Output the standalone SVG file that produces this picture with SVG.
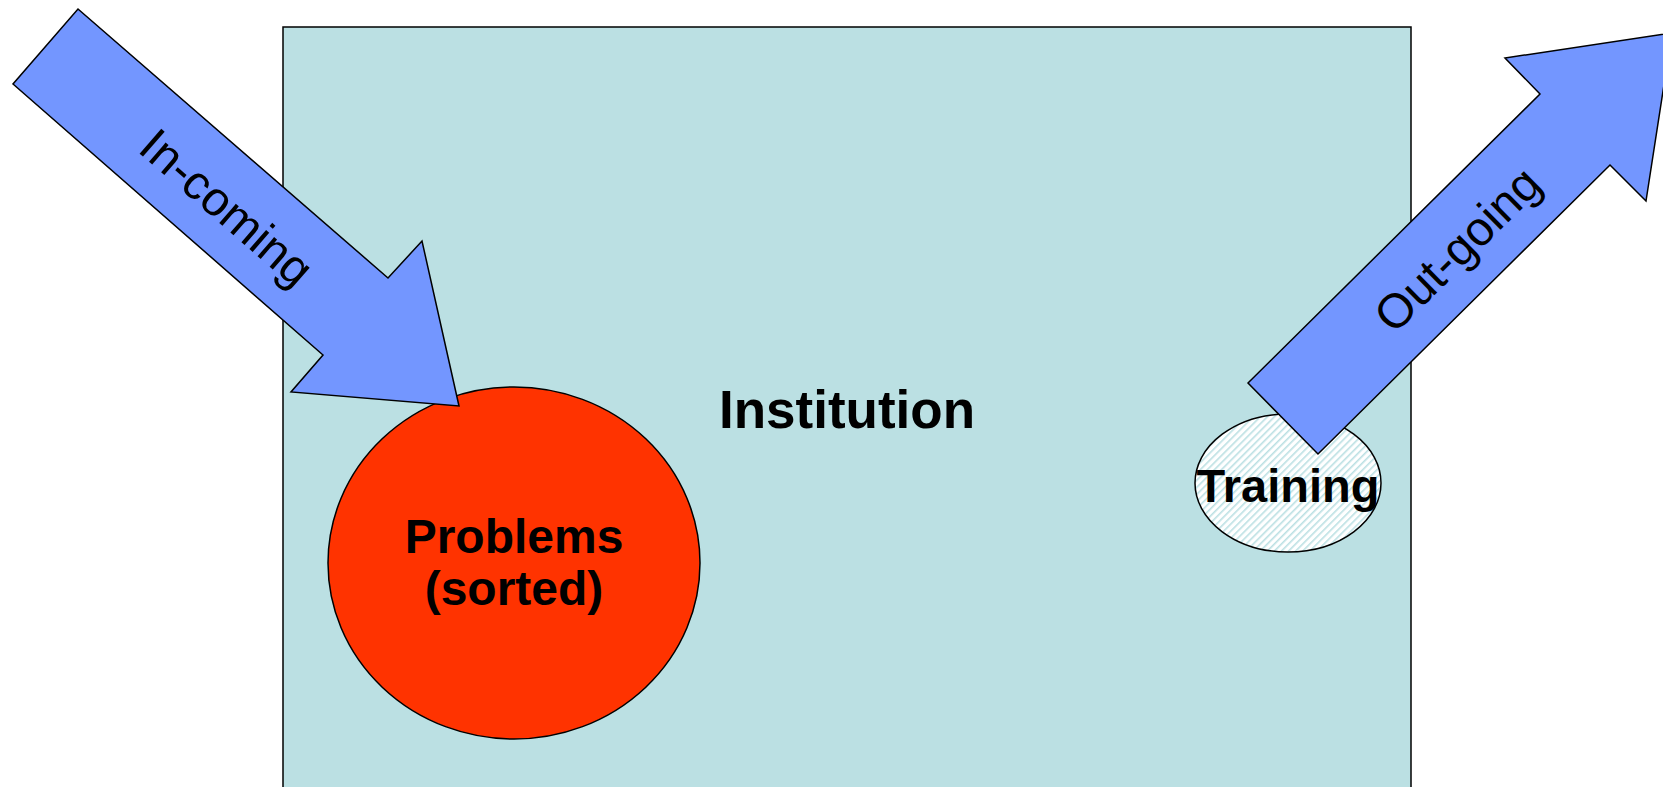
<svg xmlns="http://www.w3.org/2000/svg" width="1663" height="787" viewBox="0 0 1663 787">
<style>
.arrow{fill:#7396FF;stroke:#000;stroke-width:1.5;stroke-linejoin:miter}
.bold{font-family:"Liberation Sans",Arial,sans-serif;font-weight:bold;fill:#000;text-anchor:middle}
.reg{font-family:"Liberation Sans",Arial,sans-serif;fill:#000;text-anchor:middle}
</style>
<defs>
<pattern id="hatch" width="5" height="5" patternUnits="userSpaceOnUse" patternTransform="rotate(45)">
<rect width="5" height="5" fill="#FFFFFF"/>
<rect x="0" y="0" width="1.6" height="5" fill="#BBE0E3"/>
</pattern>
</defs>
<rect width="1663" height="787" fill="#FFFFFF"/>
<g id="institution">
<rect x="283" y="27" width="1128" height="780" fill="#BBE0E3" stroke="#000" stroke-width="1.5"/>
<text class="bold" x="847" y="428" font-size="53">Institution</text>
</g>
<g id="problems">
<ellipse cx="514" cy="563" rx="186" ry="176" fill="#FF3300" stroke="#000" stroke-width="1.5"/>
<text class="bold" x="514" y="553" font-size="48">Problems</text>
<text class="bold" x="514" y="605" font-size="48">(sorted)</text>
</g>
<g id="training">
<ellipse cx="1288" cy="483" rx="93" ry="69" fill="url(#hatch)" stroke="#000" stroke-width="1.5"/>
</g>
<g id="connectors">
<g id="incoming">
<polygon class="arrow" points="78,9 388,278 422,241 459,406 291,392 323,355 13,84"/>
<text class="reg" font-size="48" transform="translate(227,207) rotate(41)" y="17">In-coming</text>
</g>
<g id="outgoing">
<polygon class="arrow" points="1248,383 1540,94 1505,58 1672,33 1646,201 1610,165 1318,454"/>
<text class="reg" font-size="48" transform="translate(1457,249) rotate(-44.7)" y="17">Out-going</text>
</g>
</g>
<text class="bold" x="1288" y="502" font-size="47">Training</text>
</svg>
